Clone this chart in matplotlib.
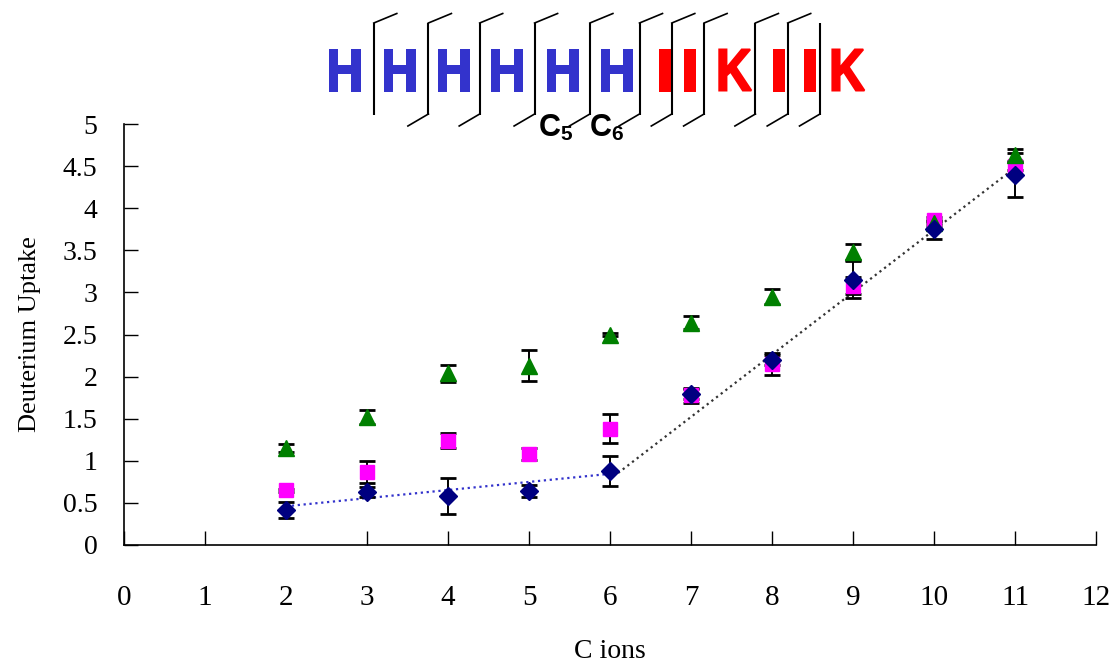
import numpy as np
import matplotlib
matplotlib.use("Agg")
import matplotlib.pyplot as plt
from matplotlib.textpath import TextPath
from matplotlib.font_manager import FontProperties
from matplotlib.patches import PathPatch
from matplotlib.transforms import Affine2D


# data
c_ions = [2, 3, 4, 5, 6, 7, 8, 9, 10, 11]

green = [1.15, 1.52, 2.04, 2.13, 2.50, 2.64, 2.95, 3.48, 3.82, 4.63]
green_err = [0.045, 0.08, 0.10, 0.18, 0.02, 0.075, 0.085, 0.09, 0.03, 0.075]

magenta = [0.65, 0.87, 1.24, 1.08, 1.38, 1.78, 2.15, 3.08, 3.86, 4.50]
magenta_err = [0.02, 0.13, 0.09, 0.07, 0.17, 0.09, 0.13, 0.10, 0.03, 0.05]

navy = [0.415, 0.633, 0.58, 0.645, 0.88, 1.79, 2.20, 3.15, 3.75, 4.39]
navy_err = [0.10, 0.06, 0.21, 0.07, 0.18, 0.06, 0.06, 0.22, 0.11, 0.26]

# trend lines
blue_fit_x = [2, 6.1]
blue_fit_y = [0.46, 0.855]
black_fit_x = [6.1, 11]
black_fit_y = [0.855, 4.48]

sequence = "HHHHHHIIKIIK"
n_blue = 6


W, H = 1110, 670
fig = plt.figure(figsize=(W / 100, H / 100), dpi=100)
plt.rcParams['font.family'] = ['Liberation Serif', 'DejaVu Serif']

ax = fig.add_axes([124 / W, (H - 545) / H, 972 / W, 421 / H])

ax.plot(blue_fit_x, blue_fit_y, linestyle=':', color='#3333cc', lw=1.6, zorder=2)
ax.plot(black_fit_x, black_fit_y, linestyle=':', color='#333333', lw=1.6, zorder=2)

ekw = dict(ecolor='black', elinewidth=1.4, capsize=5.8, capthick=2, linestyle='none', zorder=3)
ax.errorbar(c_ions, magenta, yerr=magenta_err, marker='s', ms=10.5, mfc='#ff00ff', mec='#ff00ff', **ekw)
ax.errorbar(c_ions, green, yerr=green_err, marker='^', ms=11.5, mfc='#008000', mec='#008000', **ekw)
ax.errorbar(c_ions, navy, yerr=navy_err, marker='D', ms=9, mfc='#000080', mec='#000080', **ekw)

ax.set_xlim(0, 12)
ax.set_ylim(0, 5)
ax.set_xticks(range(0, 13))
ax.set_yticks(np.arange(0, 5.01, 0.5))
ax.set_yticklabels(['0', '0.5', '1', '1.5', '2', '2.5', '3', '3.5', '4', '4.5', '5'])

ax.tick_params(axis='x', direction='in', length=10, width=1, pad=29, labelsize=21)
ax.tick_params(axis='y', direction='in', length=10, width=1, pad=19, labelsize=20)
# the reference has no tick mark at x = 2
ax.xaxis.get_major_ticks()[2].tick1line.set_visible(False)

for s in ['top', 'right']:
    ax.spines[s].set_visible(False)
for s in ['left', 'bottom']:
    ax.spines[s].set_linewidth(1.2)

ax.set_xlabel('C ions', fontsize=20, va='center')
ax.xaxis.set_label_coords(0.5, -0.254)
ax.set_ylabel('Deuterium Uptake', fontsize=19, va='center')
ax.yaxis.set_label_coords(-0.097, 0.5)


# sequence header in pixel coordinates
hdr = fig.add_axes([0, 0, 1, 1], facecolor='none')
hdr.set_xlim(0, W)
hdr.set_ylim(H, 0)
hdr.axis('off')

letter_x = [344.5, 399.5, 453.5, 507, 562.5, 616.5, 665, 689.7, 735.3, 779, 810, 848.4]
letter_w = {'H': 32, 'I': 12, 'K': 34}
cut_x = [373.8, 428.4, 479.7, 534.6, 589.9, 639.5, 671.8, 704.1, 755.4, 787.7, 820]

bold = FontProperties(family='Liberation Sans', weight='bold')
stroke = 2.0  # px
for i, (ch, x) in enumerate(zip(sequence, letter_x)):
    col = '#3333cc' if i < n_blue else '#ff0000'
    tp = TextPath((0, 0), ch, size=1, prop=bold)
    ext = tp.get_extents()
    sx = (letter_w[ch] - stroke) / ext.width
    sy = (43 - stroke) / ext.height
    tr = (Affine2D().translate(-(ext.x0 + ext.width / 2), -ext.y0)
          .scale(sx, -sy).translate(x, 91.5 - stroke / 2))
    hdr.add_patch(PathPatch(tr.transform_path(tp), facecolor=col, edgecolor=col,
                            lw=stroke * 0.72))

for i, x in enumerate(cut_x):
    hdr.plot([x, x], [23, 115], color='black', lw=1.5, solid_capstyle='butt')
    if i < len(cut_x) - 1:
        hdr.plot([x, x + 23], [23, 13.5], color='black', lw=1.2)
    if i > 0:
        hdr.plot([x, x - 20.5], [114, 126], color='black', lw=1.2)

for x, sub in [(549.7, '5'), (600.7, '6')]:
    hdr.text(x, 127.5, 'C', ha='center', va='center', fontsize=22, fontweight='bold',
             family='Liberation Sans', color='black')
    hdr.text(x + 16.5, 135, sub, ha='center', va='center', fontsize=15, fontweight='bold',
             family='Liberation Sans', color='black')

fig.savefig('out.png', dpi=100)
